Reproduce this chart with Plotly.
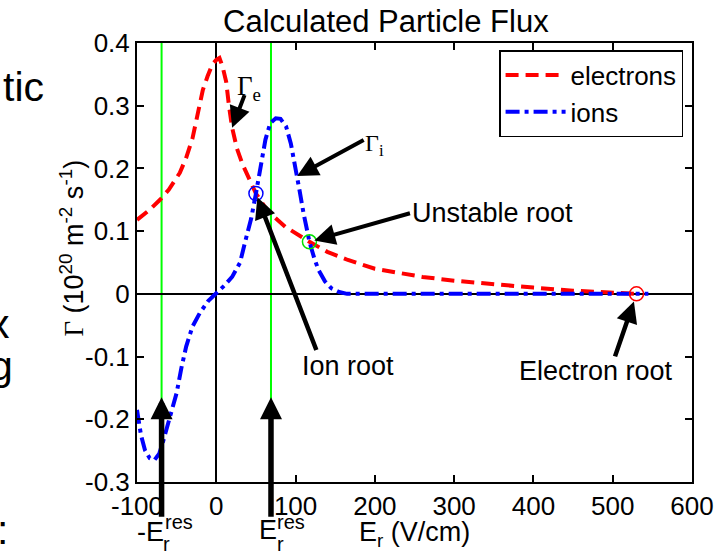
import numpy as np
import plotly.graph_objects as go

# Radial electric field E_r (V/cm) and calculated particle fluxes (1e20 m^-2 s^-1)
er_electrons = [-100, -85, -71, -60, -46, -38, -30, -24, -17, -11, -5, 0, 4, 8, 12.5, 16,
                20, 26, 33, 42, 50, 60, 70, 87, 100, 117.5, 140, 166, 200, 229, 260,
                300, 350, 400, 450, 500, 530]
flux_electrons = [0.118, 0.133, 0.150, 0.166, 0.193, 0.217, 0.248, 0.283, 0.325, 0.347,
                  0.366, 0.373, 0.376, 0.362, 0.338, 0.300, 0.265, 0.232, 0.207, 0.182,
                  0.160, 0.141, 0.126, 0.107, 0.096, 0.083, 0.067, 0.054, 0.040, 0.033,
                  0.027, 0.021, 0.015, 0.010, 0.005, 0.002, 0.000]

er_ions = [-100, -95, -90, -84, -78, -72, -67, -63, -56, -50, -44, -38, -30, -21, -10, 0,
           10, 20, 30, 37, 44, 50, 56, 62, 68, 75, 81, 88, 94, 100, 105, 110, 117.5, 124,
           129, 137, 145, 155, 165, 250, 350, 450, 545]
flux_ions = [-0.185, -0.225, -0.249, -0.262, -0.265, -0.255, -0.235, -0.217, -0.185, -0.158,
             -0.118, -0.084, -0.052, -0.031, -0.011, 0.0, 0.013, 0.027, 0.050, 0.086, 0.120,
             0.160, 0.205, 0.246, 0.272, 0.280, 0.279, 0.267, 0.240, 0.203, 0.165, 0.129,
             0.083, 0.055, 0.038, 0.020, 0.009, 0.003, 0.0, 0.0, 0.0, 0.0, 0.0]

# Ambipolar roots: ion root, unstable root, electron root
root_er = [50, 117.5, 530]
root_flux = [0.160, 0.083, 0.0]
root_colors = ["#0000ff", "#00e000", "#ff0000"]

# Resonant radial field, marked at -E_r^res and +E_r^res
er_res = 69

x_tickvals = [-100, 0, 100, 200, 300, 400, 500, 600]
x_ticktext = ["-100", "0", "100", "200", "300", "400", "500", "600"]
y_tickvals = [-0.3, -0.2, -0.1, 0.0, 0.1, 0.2, 0.3, 0.4]
y_ticktext = ["-0.3", "-0.2", "-0.1", "0", "0.1", "0.2", "0.3", "0.4"]

ARIAL = "Arial, Liberation Sans, sans-serif"
SERIF = "Liberation Serif, Times New Roman, serif"

# Canvas and plot-area geometry (pixels)
W, H = 726, 553
L, R, T, B = 137, 29, 43, 71
PW, PH = W - L - R, H - T - B


def px(x):
    return (x - L) / PW


def py(y):
    return (H - B - y) / PH


def label(text, x, y, size, xanchor="left", family=ARIAL, angle=0):
    return dict(text=text, x=px(x), y=py(y), xref="paper", yref="paper",
                showarrow=False, xanchor=xanchor, yanchor="middle", borderpad=0,
                textangle=angle, font=dict(size=size, family=family, color="black"))


def arrow(x, y, ax, ay, width=4, size=1.0, standoff=0):
    return dict(text="", x=x, y=y, xref="x", yref="y", ax=ax, ay=ay,
                showarrow=True, arrowhead=2, arrowsize=size, arrowwidth=width,
                arrowcolor="black", standoff=standoff)


fig = go.Figure()

fig.add_trace(go.Scatter(
    x=er_electrons, y=flux_electrons, mode="lines", name="electrons",
    line=dict(color="#ff0000", width=4, dash="13px,7px"),
))
fig.add_trace(go.Scatter(
    x=er_ions, y=flux_ions, mode="lines", name="ions",
    line=dict(color="#0000ff", width=4, dash="14px,5px,4px,5px"),
))
fig.add_trace(go.Scatter(
    x=root_er, y=root_flux, mode="markers", showlegend=False,
    marker=dict(symbol="circle-open", size=14, color=root_colors,
                line=dict(width=1.5, color=root_colors)),
))

# Resonance lines at +/- E_r^res
shapes = [
    dict(type="line", xref="x", yref="paper", x0=e, x1=e, y0=0, y1=1,
         line=dict(color="#00ff00", width=2), layer="below")
    for e in (-er_res, er_res)
]

e_at = lambda e: float(np.interp(e, er_electrons, flux_electrons))
i_desc = lambda e: float(np.interp(e, er_ions, flux_ions))

annotations = [
    # title
    label("Calculated Particle Flux", 388, 22, 31, xanchor="center"),
    # curve labels with arrows
    label("Γ<sub>e</sub>", 237, 88, 27, family=SERIF),
    arrow(20, e_at(20), 13, -34, width=4, size=1.05),
    label("Γ<sub>i</sub>", 366, 145, 24, family=SERIF),
    arrow(102, i_desc(102), 68, -37, width=4, size=1.05),
    label("Unstable root", 413, 213, 27),
    arrow(root_er[1], root_flux[1], 102, -29, width=4, size=1.05, standoff=5),
    label("Ion root", 302, 366, 27),
    arrow(root_er[0], root_flux[0], 61, 158, width=4.5, size=0.95, standoff=4),
    label("Electron root", 521, 371, 27),
    arrow(root_er[2], root_flux[2], -22, 64, width=4.5, size=0.95, standoff=8),
    # resonance arrows below the axis
    arrow(-er_res, -0.165, 0, 121, width=5.5, size=0.8),
    arrow(er_res, -0.165, 0, 121, width=5.5, size=0.8),
    label("-E", 136, 532, 27),
    label("res", 164, 522, 20),
    label("r", 162, 544, 20),
    label("E", 259, 530, 27),
    label("res", 277, 522, 20),
    label("r", 277, 544, 20),
    # axis titles
    label("E<sub>r</sub> (V/cm)", 417, 534, 27, xanchor="center"),
    label('<span style="font-family:Liberation Serif, serif">Γ</span> (10<sup>20</sup> m<sup>-2</sup> s<sup>-1</sup>)',
          71, 248, 27, xanchor="center", angle=-90),
    # slide text continuing off the left edge
    label("tic", 44, 87, 41, xanchor="right"),
    label("x", 10, 324, 41, xanchor="right"),
    label("g", 13, 366, 41, xanchor="right"),
    label(":", 8, 530, 41, xanchor="right"),
]

axis_common = dict(
    showline=True, linecolor="black", linewidth=2, mirror="ticks",
    ticks="inside", ticklen=7, tickwidth=1.5, tickcolor="black",
    showgrid=False, zeroline=True, zerolinecolor="black", zerolinewidth=1.5,
    tickfont=dict(family=ARIAL, size=26, color="black"),
)

fig.update_layout(
    width=W, height=H, autosize=False,
    margin=dict(l=L, r=R, t=T, b=B, pad=0),
    paper_bgcolor="white", plot_bgcolor="white",
    xaxis=dict(range=[-100, 600], tickvals=x_tickvals, ticktext=x_ticktext, **axis_common),
    yaxis=dict(range=[-0.3, 0.4], tickvals=y_tickvals, ticktext=y_ticktext, **axis_common),
    shapes=shapes,
    annotations=annotations,
    legend=dict(x=px(688), y=py(50), xanchor="right", yanchor="top",
                bgcolor="white", bordercolor="black", borderwidth=1.5,
                font=dict(family=ARIAL, size=26, color="black"), itemwidth=60),
    showlegend=True,
)

fig.write_html("out.html")
